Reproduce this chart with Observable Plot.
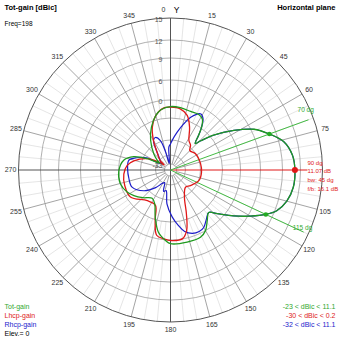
<!DOCTYPE html>
<html><head><meta charset="utf-8">
<script src="https://cdn.jsdelivr.net/npm/d3@7"></script>
<script src="https://cdn.jsdelivr.net/npm/@observablehq/plot@0.6"></script>
<style>body{margin:0;background:#fff}svg{display:block}</style>
</head><body><div id="chart"></div>
<script>
// ---- data ----
const totAngles = [0,9,19,27,32,36,39,43,46,51,58,64,70,76,83,90,98,105,111,115,120,126,133,138,144,150,156,167,180,184,191,198,205,213,225,235,243,255,269,282,290,296,302,306,314,326,336,345,351];
const totGain   = [-2.2,-2.3,-2.7,-2.6,-3.3,-5.7,-8.0,-10.3,-8.7,-4.9,1.4,6.4,8.07,9.8,10.8,11.07,11.0,10.4,9.3,8.07,6.3,2.4,-2.0,-4.3,-2.5,0.0,1.1,1.2,1.1,0.2,-2.2,-6.7,-10.0,-11.0,-9.5,-8.0,-6.9,-6.0,-6.1,-7.2,-9.5,-14.2,-23.0,-19.3,-15.6,-10.5,-7.4,-4.5,-3.0];

const rhcpAngles = [0,3,10,16,21,28,32,36,39,43,46,51,58,64,70,76,83,90,98,105,111,115,120,126,133,138,144,150,155,161,167,172,178,186,192,198,205,212,220,232,246,260,270,283,290,297,304,318,330,335,341,345,350,356];
const rhcpGain   = [-14.1,-12.3,-9.7,-7.1,-4.5,-2.1,-2.9,-5.7,-8.0,-10.3,-8.7,-4.9,1.4,6.4,8.07,9.8,10.8,11.07,11.0,10.4,9.3,8.07,6.3,2.4,-2.0,-4.3,-3.0,-1.2,-0.7,-1.0,-2.3,-4.7,-7.4,-10.9,-16.8,-16.0,-21.6,-19.5,-15.7,-11.0,-8.7,-8.6,-8.5,-8.5,-10.4,-13.6,-24.3,-18.8,-10.9,-10.4,-11.7,-18.4,-32,-15.7];

const lhcpAngles = [0,9,17,24,32,39,45,57,78,94,110,128,139,153,160,165,170,179,186,192,197,203,217,236,251,265,276,284,296,304,309,313,323,330,337,345,354];
const lhcpGain   = [-2.4,-2.7,-4.3,-7.4,-10.7,-11.5,-13.4,-12.1,-11.8,-11.7,-11.9,-14.5,-15.8,-11.8,-7.5,-2.5,-0.1,0.2,-0.3,-1.1,-5.8,-9.7,-9.7,-7.0,-7.0,-7.4,-8.3,-9.9,-14.2,-21.4,-30,-21,-16.1,-10.9,-7.5,-4.5,-2.5];

const ringValues = [-33,-20,-12,-6,0,6,9,12,15];
const ringLabels = [15,12,9,6,0,-33];
const angleLabels = [15,30,45,60,75,105,120,135,150,165,180,195,210,225,240,255,270,285,300,315,330,345];
const peakAngle = 90, peakGain = 11.07;
const beamAngles = [70,115], beamGain = 8.07;
const markerTexts = ["90 dg","11.07 dB","bw: 45 dg","f/b: 16.1 dB"];
const beamTexts = ["70 dg","115 dg"];
const legendNames = ["Tot-gain","Lhcp-gain","Rhcp-gain"];
const rangeTexts = ["-23 < dBic < 11.1","-30 < dBic < 0.2","-32 < dBic < 11.1"];

// ---- scales / helpers ----
const GREEN = "#1f9a1f", RED = "#e01818", BLUE = "#1c1cc8";
const seriesColors = ["#2fa82f", "#dd2222", "#2222cc"];
const rScale = d3.scaleLinear().domain(ringValues).range([6,15,30,52,70,90,112,130,152]).clamp(true);
const rad = a => a*Math.PI/180;
const px = (a,r) => r*Math.sin(rad(a));
const py = (a,r) => r*Math.cos(rad(a));
const series = (angles, gains) => angles.map((a,i)=>({x:px(a,rScale(gains[i])), y:py(a,rScale(gains[i]))}));
const tot = series(totAngles, totGain), rhcp = series(rhcpAngles, rhcpGain), lhcp = series(lhcpAngles, lhcpGain);
const rIn = rScale(-33), rOut = rScale(15), rMinor = rScale(-6);
const major = d3.range(0,360,15), minor = d3.range(0,360,5).filter(a=>a%15);
const axes = [0,180,270];
// page-pixel helpers for free-standing annotation text
const fx = X => X - 170, fy = Y => 169.5 - Y;

const txt = (rows, opts) => Plot.text(rows, {x:"x", y:"y", text:"t", fill:"c", ...opts});

const chart = Plot.plot({
  width: 339, height: 339, margin: 0,
  x: {domain: [-170,169], axis: null},
  y: {domain: [-169.5,169.5], axis: null},
  r: {type: "identity"},
  color: {type: "identity"},
  style: {fontFamily: "'Liberation Sans', Arial, sans-serif", background: "#fff"},
  marks: [
    Plot.link(minor, {x1:a=>px(a,rMinor), y1:a=>py(a,rMinor), x2:a=>px(a,rOut), y2:a=>py(a,rOut), stroke:"#dedede", strokeWidth:0.8}),
    Plot.dot(ringValues.slice(0,-1), {x:()=>0, y:()=>0, r:d=>rScale(d), stroke:"#a8a8a8", fill:"none", strokeWidth:0.9}),
    Plot.link(major.filter(a=>a%90), {x1:a=>px(a,rIn), y1:a=>py(a,rIn), x2:a=>px(a,rOut), y2:a=>py(a,rOut), stroke:"#9a9a9a", strokeWidth:0.9}),
    Plot.link(axes, {x1:0, y1:0, x2:a=>px(a,rOut), y2:a=>py(a,rOut), stroke:"#555", strokeWidth:1}),
    Plot.dot([15], {x:()=>0, y:()=>0, r:d=>rScale(d), stroke:"#555", fill:"none", strokeWidth:1}),
    // markers
    Plot.link([peakAngle], {x1:0, y1:0, x2:a=>px(a,rScale(12.95)), y2:a=>py(a,rScale(12.95)), stroke:RED, strokeWidth:1}),
    Plot.link(beamAngles, {x1:0, y1:0, x2:a=>px(a,rScale(14.3)), y2:a=>py(a,rScale(14.3)), stroke:"#44bb44", strokeWidth:1}),
    // curves
    Plot.line(rhcp, {x:"x", y:"y", stroke:BLUE, strokeWidth:1.2, curve:"catmull-rom-closed"}),
    Plot.line(lhcp, {x:"x", y:"y", stroke:RED, strokeWidth:1.3, curve:"catmull-rom-closed"}),
    Plot.line(tot, {x:"x", y:"y", stroke:GREEN, strokeWidth:1.3, curve:"catmull-rom-closed"}),
    Plot.dot(beamAngles, {x:a=>px(a,rScale(beamGain)), y:a=>py(a,rScale(beamGain)), r:()=>2.3, fill:"#22aa22", stroke:"none"}),
    Plot.dot([peakAngle], {x:a=>px(a,rScale(peakGain)), y:a=>py(a,rScale(peakGain)), r:()=>3, fill:RED, stroke:"none"}),
    // labels
    Plot.text(angleLabels, {x:a=>px(a,160), y:a=>py(a,160), text:a=>String(a), fontSize:7, fill:"#333"}),
    Plot.text(["0"], {x:0, y:160, dx:-7, fontSize:7, fill:"#333"}),
    Plot.text(["Y"], {x:0, y:160, dx:6, fontSize:8.5, fill:"#000"}),
    Plot.text(ringLabels, {x:()=>0, y:d=>rScale(d), dx:-8, dy:1.5, text:d=>String(d), textAnchor:"end", fontSize:7, fill:"#555"}),
    txt(beamTexts.map((t,i)=>({t, x:px([66,113.5][i],[148,144][i]), y:py([66,113.5][i],[148,144][i]), c:"#33aa33"})), {fontSize:6.5}),
    txt(markerTexts.map((t,i)=>({t, x:fx(307), y:fy([163,170.5,180,188.5][i]), c:RED})), {textAnchor:"start", fontSize:6}),
    // titles
    txt([{t:"Tot-gain [dBic]", x:fx(4), y:fy(7), c:"#000"}], {textAnchor:"start", fontSize:7.5, fontWeight:"bold"}),
    txt([{t:"Horizontal plane", x:fx(335), y:fy(7), c:"#000"}], {textAnchor:"end", fontSize:7.5, fontWeight:"bold"}),
    txt([{t:"Freq=198", x:fx(4), y:fy(23), c:"#000"}], {textAnchor:"start", fontSize:6.5}),
    // legend
    txt(legendNames.map((t,i)=>({t, x:fx(4), y:fy([306,315,324][i]), c:seriesColors[i]})), {textAnchor:"start", fontSize:7}),
    txt([{t:"Elev.= 0", x:fx(4), y:fy(333), c:"#000"}], {textAnchor:"start", fontSize:7}),
    txt(rangeTexts.map((t,i)=>({t, x:fx(335), y:fy([306,315,324][i]), c:seriesColors[i]})), {textAnchor:"end", fontSize:7})
  ]
});
document.getElementById("chart").appendChild(chart);
</script>
</body></html>
